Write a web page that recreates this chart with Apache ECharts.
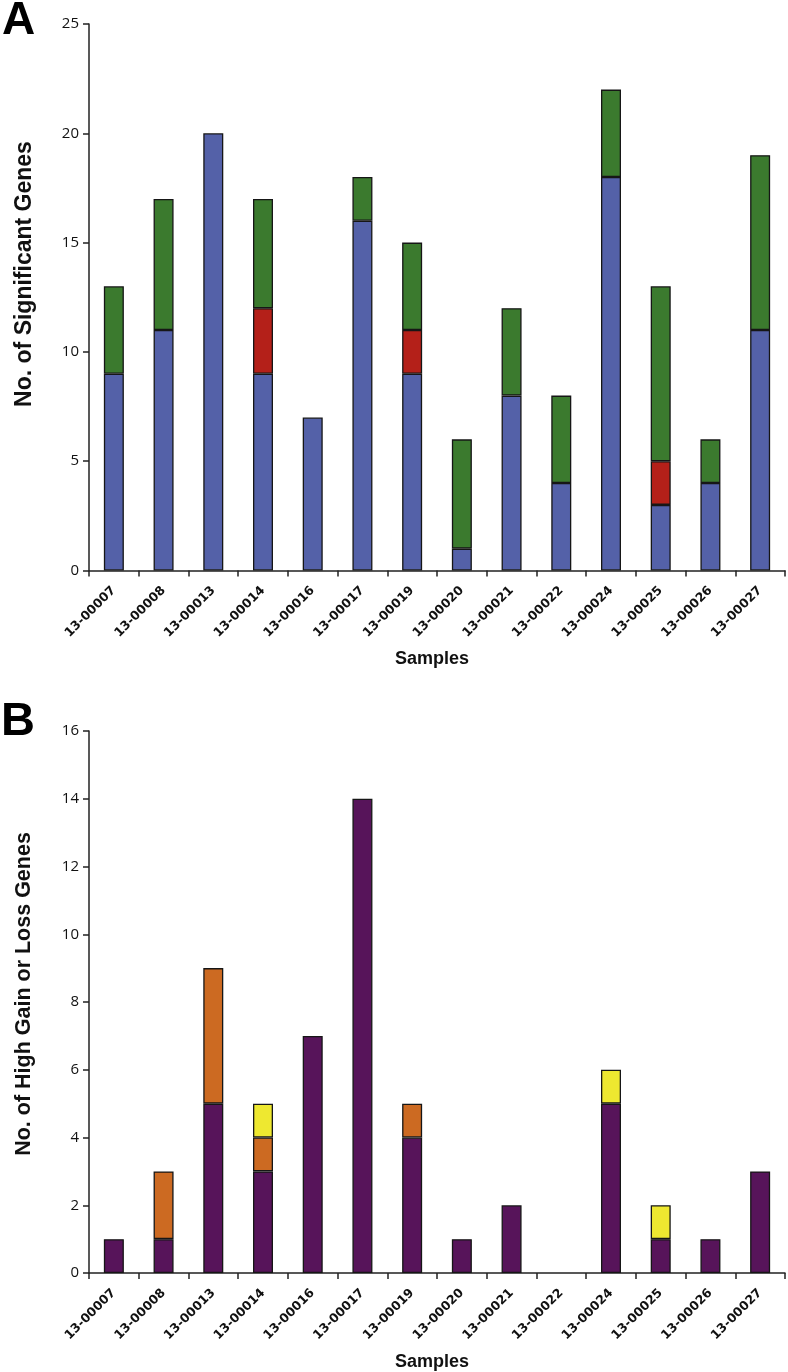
<!DOCTYPE html>
<html>
<head>
<meta charset="utf-8">
<script src="https://cdn.jsdelivr.net/npm/echarts@6/dist/echarts.min.js"></script>
<style>
html,body{margin:0;padding:0;background:#fff;}
#c{width:788px;height:1372px;}
</style>
</head>
<body>
<div id="c"></div>
<script>
const categories = ['13-00007','13-00008','13-00013','13-00014','13-00016','13-00017','13-00019','13-00020','13-00021','13-00022','13-00024','13-00025','13-00026','13-00027'];
// Panel A
const aBlue  = [9, 11, 20, 9, 7, 16, 9, 1, 8, 4, 18, 3, 4, 11];
const aRed   = [0, 0, 0, 3, 0, 0, 2, 0, 0, 0, 0, 2, 0, 0];
const aGreen = [4, 6, 0, 5, 0, 2, 4, 5, 4, 4, 4, 8, 2, 8];
// Panel B
const bPurple = [1, 1, 5, 3, 7, 14, 4, 1, 2, 0, 5, 1, 1, 3];
const bOrange = [0, 2, 4, 1, 0, 0, 1, 0, 0, 0, 0, 0, 0, 0];
const bYellow = [0, 0, 0, 1, 0, 0, 0, 0, 0, 0, 1, 1, 0, 0];
const aTicks = {min: 0, max: 25, interval: 5};
const bTicks = {min: 0, max: 16, interval: 2};

const chart = echarts.init(document.getElementById('c'), null, {renderer: 'canvas'});
const axisLineStyle = {color: '#222', width: 1.5};
function xAx(gi) {
  return {
    type: 'category', gridIndex: gi, data: categories,
    axisLine: {lineStyle: axisLineStyle},
    axisTick: {show: true, length: 6, lineStyle: axisLineStyle},
    axisLabel: {rotate: 45, interval: 0, margin: 18, color: '#111', fontFamily: 'DejaVu Sans', fontWeight: 'bold', fontSize: 12.5},
    name: 'Samples', nameLocation: 'middle', nameGap: 80,
    nameTextStyle: {fontFamily: 'Liberation Sans', fontWeight: 'bold', fontSize: 18, color: '#111', padding: [0, 10, 0, 0]}
  };
}
function yAx(gi, t) {
  return {
    type: 'value', gridIndex: gi, min: t.min, max: t.max, interval: t.interval,
    splitLine: {show: false},
    axisLine: {show: true, lineStyle: axisLineStyle},
    axisTick: {show: true, length: 6, lineStyle: axisLineStyle},
    axisLabel: {margin: 10, color: '#111', fontFamily: 'Open Sans', fontSize: 15}
  };
}
function bar(name, data, color, xi, stack) {
  return {
    name: name, type: 'bar', stack: stack, xAxisIndex: xi, yAxisIndex: xi,
    data: data.map(v => v === 0 ? '-' : v), barWidth: 20,
    itemStyle: {color: color, borderColor: '#161616', borderWidth: 1.3},
    emphasis: {disabled: true}
  };
}
chart.setOption({
  animation: false,
  backgroundColor: '#fff',
  grid: [
    {left: 89, top: 24, width: 696, height: 546.5},
    {left: 89, top: 731, width: 696, height: 543}
  ],
  xAxis: [xAx(0), xAx(1)],
  yAxis: [yAx(0, aTicks), yAx(1, bTicks)],
  series: [
    bar('Blue', aBlue, '#5461A8', 0, 'a'),
    bar('Red', aRed, '#B42019', 0, 'a'),
    bar('Green', aGreen, '#3B7A2E', 0, 'a'),
    bar('Purple', bPurple, '#57145A', 1, 'b'),
    bar('Orange', bOrange, '#CC6A22', 1, 'b'),
    bar('Yellow', bYellow, '#EEE830', 1, 'b')
  ],
  graphic: [
    {type: 'text', left: 2, top: -2, style: {text: 'A', font: 'bold 46px "Liberation Sans"', fill: '#000'}},
    {type: 'text', left: 1, top: 699, style: {text: 'B', font: 'bold 47px "Liberation Sans"', fill: '#000'}},
    {type: 'text', x: 25, y: 274, rotation: Math.PI / 2,
     style: {text: 'No. of Significant Genes', align: 'center', verticalAlign: 'middle', font: 'bold 23px "Liberation Sans"', fill: '#111'}},
    {type: 'text', x: 24, y: 994, rotation: Math.PI / 2,
     style: {text: 'No. of High Gain or Loss Genes', align: 'center', verticalAlign: 'middle', font: 'bold 21.5px "Liberation Sans"', fill: '#111'}}
  ]
});
</script>
</body>
</html>
